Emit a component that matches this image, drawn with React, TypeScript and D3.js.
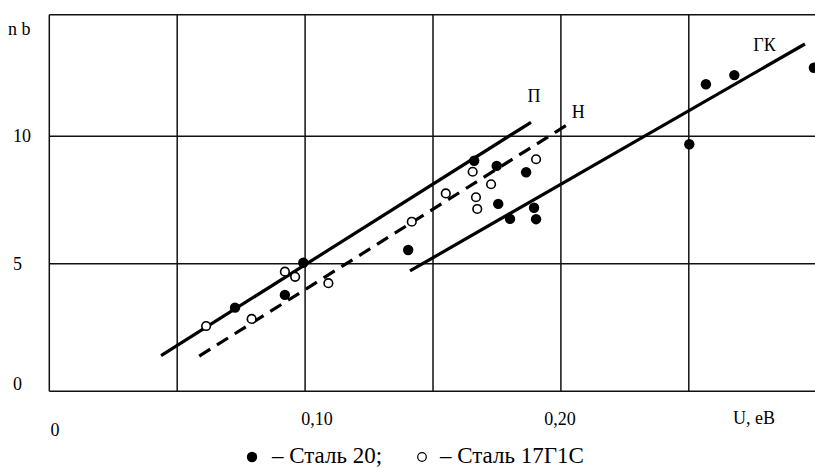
import React from "react";
import * as d3 from "d3";

const xGrid = [0, 0.05, 0.1, 0.15, 0.2, 0.25, 0.3];
const yGrid = [0, 5, 10];
const yTop = 14.77;

const xTickLabels = [
  { v: 0.1, t: "0,10", dx: 12 },
  { v: 0.2, t: "0,20", dx: -1 },
];
const yTickLabels = [
  { v: 10, t: "10" },
  { v: 5, t: "5" },
  { v: 0, t: "0" },
];

// Сталь 20 (filled)
const steel20X = [0.0726, 0.0921, 0.0993, 0.1403, 0.1661, 0.1749, 0.1864, 0.1755, 0.1895, 0.1801, 0.1903, 0.2502, 0.2567, 0.2678, 0.2989];
const steel20Y = [3.28, 3.78, 5.04, 5.54, 9.04, 8.84, 8.59, 7.35, 7.2, 6.76, 6.75, 9.69, 12.04, 12.4, 12.69];
// Сталь 17Г1С (open)
const steel17X = [0.0613, 0.0791, 0.0921, 0.0961, 0.1091, 0.1417, 0.155, 0.1655, 0.1727, 0.1668, 0.1673, 0.1903];
const steel17Y = [2.56, 2.84, 4.69, 4.49, 4.24, 6.65, 7.76, 8.61, 8.12, 7.61, 7.15, 9.1];

const lineP: [number, number][] = [[0.0437, 1.4], [0.1883, 10.55]];
const lineN: [number, number][] = [[0.0586, 1.38], [0.2042, 10.56]];
const lineGK: [number, number][] = [[0.141, 4.72], [0.2954, 13.62]];

const lineLabels = [
  { t: "П", x: 0.1895, y: 11.58 },
  { t: "Н", x: 0.2068, y: 10.95 },
  { t: "ГК", x: 0.2796, y: 13.59 },
];

const W = 815;
const H = 468;

export default function App() {
  const x = d3.scaleLinear().domain([0, 0.3]).range([49.3, 816.7]);
  const y = d3.scaleLinear().domain([0, 5]).range([391.3, 263.8]);
  const line = d3
    .line<[number, number]>()
    .x((d) => x(d[0]))
    .y((d) => y(d[1]));
  const tf: React.CSSProperties = { fontFamily: '"Liberation Serif", "DejaVu Serif", serif' };
  return (
    <svg
      width={W}
      height={H}
      style={{ position: "absolute", left: 0, top: 0, background: "#fff" }}
    >
      <rect x={0} y={0} width={W} height={H} fill="#fff" />
      {/* grid */}
      {xGrid.map((v) => (
        <line key={"gx" + v} x1={x(v)} x2={x(v)} y1={y(yTop)} y2={y(0)} stroke="#111" strokeWidth={1.5} />
      ))}
      {yGrid.map((v) => (
        <line key={"gy" + v} x1={x(0)} x2={x(0.3)} y1={y(v)} y2={y(v)} stroke="#111" strokeWidth={1.5} />
      ))}
      <line x1={x(0)} x2={x(0.3)} y1={y(yTop)} y2={y(yTop)} stroke="#111" strokeWidth={1.5} />

      {/* fitted lines */}
      <path d={line(lineP) || ""} stroke="#000" strokeWidth={3.2} fill="none" />
      <path d={line(lineN) || ""} stroke="#000" strokeWidth={3.2} fill="none" strokeDasharray="13 8" />
      <path d={line(lineGK) || ""} stroke="#000" strokeWidth={3.2} fill="none" />

      {lineLabels.map((l) => (
        <text key={l.t} style={tf} x={x(l.x)} y={y(l.y)} fontSize={18} textAnchor="middle" dominantBaseline="central">
          {l.t}
        </text>
      ))}

      {/* points */}
      {steel17X.map((v, i) => (
        <circle key={"o" + i} cx={x(v)} cy={y(steel17Y[i])} r={4.3} fill="#fff" stroke="#000" strokeWidth={1.6} />
      ))}
      {steel20X.map((v, i) => (
        <circle key={"f" + i} cx={x(v)} cy={y(steel20Y[i])} r={5.2} fill="#000" />
      ))}

      {/* axis labels */}
      <text style={tf} x={8} y={29} fontSize={18} dominantBaseline="central">n b</text>
      {yTickLabels.map((t) => (
        <text key={"yl" + t.v} style={tf} x={13} y={t.v === 0 ? 384 : y(t.v)} fontSize={18} dominantBaseline="central">
          {t.t}
        </text>
      ))}
      <text style={tf} x={55} y={430} fontSize={18} textAnchor="middle" dominantBaseline="central">0</text>
      {xTickLabels.map((t) => (
        <text key={"xl" + t.v} style={tf} x={x(t.v) + t.dx} y={419} fontSize={18} textAnchor="middle" dominantBaseline="central">
          {t.t}
        </text>
      ))}
      <text style={tf} x={754} y={418} fontSize={18} textAnchor="middle" dominantBaseline="central">U, eB</text>

      {/* legend */}
      <circle cx={252} cy={457} r={5.2} fill="#000" />
      <text style={tf} x={272} y={463} fontSize={23}>– Сталь 20;</text>
      <circle cx={422} cy={457} r={4.3} fill="#fff" stroke="#000" strokeWidth={1.2} />
      <text style={tf} x={440} y={463} fontSize={23}>– Сталь 17Г1С</text>
    </svg>
  );
}
